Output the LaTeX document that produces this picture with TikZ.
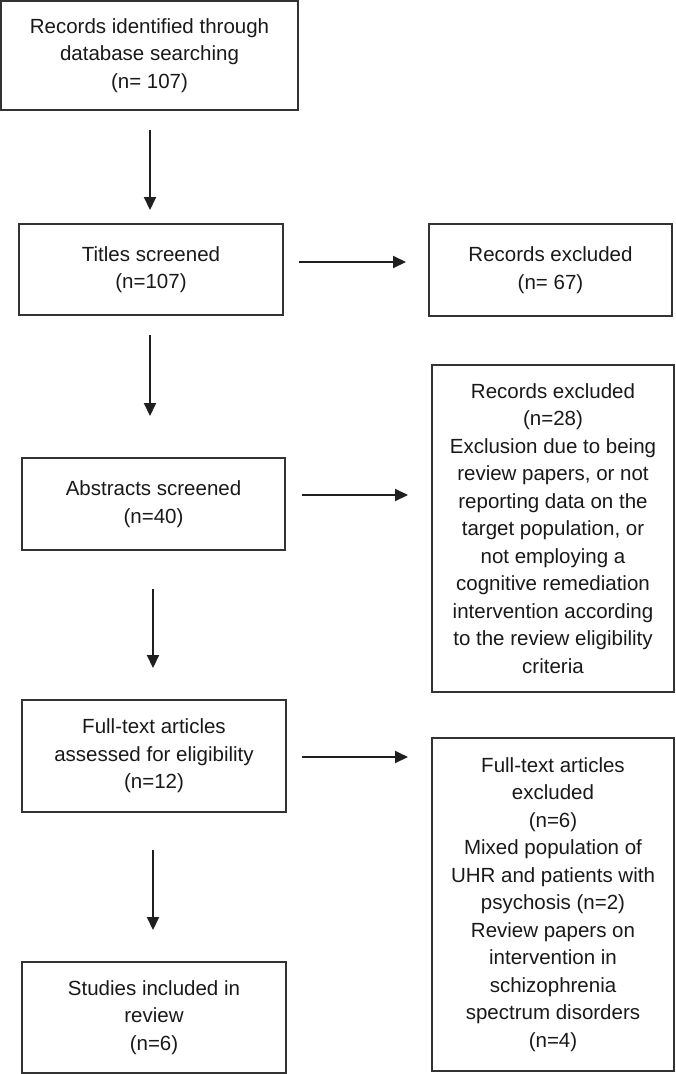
\documentclass[tikz,border=0pt]{standalone}
\usepackage{fontspec}
\setmainfont{Liberation Sans}
\usetikzlibrary{arrows.meta}
\begin{document}
\begin{tikzpicture}[x=1pt,y=-1pt,
  box/.style={draw=black!80, line width=1.4pt, inner sep=0pt, outer sep=0pt,
    align=center, font=\fontsize{20.5}{27.5}\selectfont, text=black!90},
  arr/.style={draw=black!88, line width=2pt, -{Triangle[length=13pt,width=12pt]}}]
\useasboundingbox (0,0) rectangle (675,1074);
\node[box, minimum width=297pt, minimum height=109pt] (b1) at (149.5,55.5)
  {Records identified through\\database searching\\(n= 107)};
\node[box, minimum width=264pt, minimum height=91pt] (b2) at (151,269.5)
  {Titles screened\\(n=107)};
\node[box, minimum width=243pt, minimum height=92pt] (b3) at (550.5,270)
  {Records excluded\\(n= 67)};
\node[box, minimum width=263pt, minimum height=92pt] (b4) at (153.5,504)
  {Abstracts screened\\(n=40)};
\node[box, minimum width=242pt, minimum height=327pt] (b5) at (553,528.5)
  {Records excluded\\(n=28)\\Exclusion due to being\\review papers, or not\\reporting data on the\\target population, or\\not employing a\\cognitive remediation\\intervention according\\to the review eligibility\\criteria};
\node[box, minimum width=264pt, minimum height=112pt] (b6) at (154,756)
  {Full-text articles\\assessed for eligibility\\(n=12)};
\node[box, minimum width=242pt, minimum height=333pt] (b7) at (553,904.5)
  {Full-text articles\\excluded\\(n=6)\\Mixed population of\\UHR and patients with\\psychosis (n=2)\\Review papers on\\intervention in\\schizophrenia\\spectrum disorders\\(n=4)};
\node[box, minimum width=264pt, minimum height=111pt] (b8) at (154,1017.5)
  {Studies included in\\review\\(n=6)};
% vertical arrows
\draw[arr, shorten <=20pt, shorten >=14pt] ([xshift=0.5pt]b1.south) -- ([xshift=0.5pt]b1.south |- b2.north);
\draw[arr, shorten <=20pt, shorten >=42pt] ([xshift=-1pt]b2.south) -- ([xshift=-1pt]b2.south |- b4.north);
\draw[arr, shorten <=39pt, shorten >=32pt] ([xshift=-0.5pt]b4.south) -- ([xshift=-0.5pt]b4.south |- b6.north);
\draw[arr, shorten <=38pt, shorten >=32pt] ([xshift=-1pt]b6.south) -- ([xshift=-1pt]b6.south |- b8.north);
% horizontal arrows
\draw[arr, shorten <=16pt, shorten >=23pt] ([yshift=7.5pt]b2.east) -- ([yshift=7.5pt]b2.east -| b3.west);
\draw[arr, shorten <=17pt, shorten >=24pt] ([yshift=9pt]b4.east) -- ([yshift=9pt]b4.east -| b5.west);
\draw[arr, shorten <=16pt, shorten >=24pt] ([yshift=-1pt]b6.east) -- ([yshift=-1pt]b6.east -| b7.west);
\end{tikzpicture}
\end{document}
